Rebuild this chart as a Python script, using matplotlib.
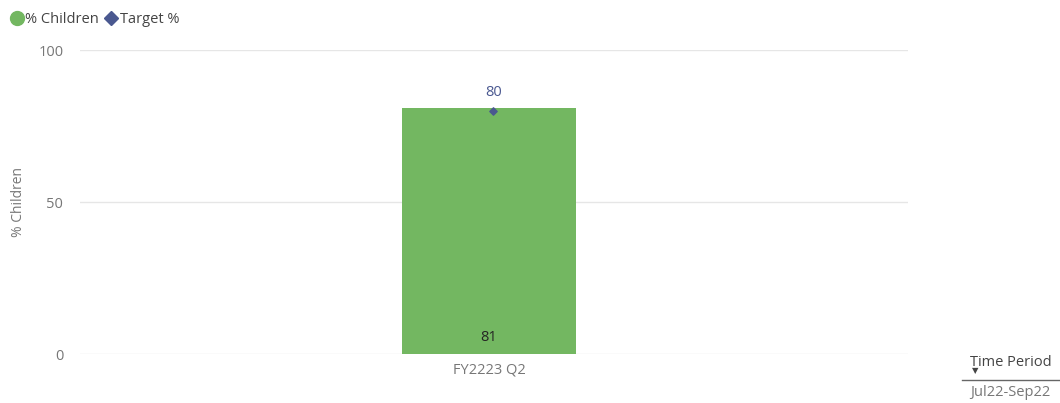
import matplotlib.pyplot as plt
from matplotlib.lines import Line2D

plt.rcParams['font.family'] = ['Open Sans', 'DejaVu Sans']

periods = ["FY2223 Q2"]
children_pct = [81]
target_pct = [80]
slicer_title = "Time Period"
slicer_value = "Jul22-Sep22"

bar_col = "#73B761"
tgt_col = "#4A5890"
grey = "#777777"

fig = plt.figure(figsize=(10.6, 4.03), dpi=100)
ax = fig.add_axes([80 / 1060, 49 / 403, 828 / 1060, 304 / 403])

x = list(range(len(periods)))
ax.bar(x, children_pct, width=0.21, color=bar_col, zorder=2)
ax.scatter([xi + 0.005 for xi in x], target_pct, marker="D", s=14, color=tgt_col, zorder=3)

for xi, v in zip(x, children_pct):
    ax.text(xi, 3, str(v), ha="center", va="bottom", fontsize=10.5, color="#252423")
for xi, v in zip(x, target_pct):
    ax.text(xi + 0.005, v + 3.7, str(v), ha="center", va="bottom", fontsize=10.5, color=tgt_col)

ax.set_xlim(-0.494, 0.506)
ax.set_ylim(0, 100)
ax.set_yticks([0, 50, 100])
ax.set_xticks(x)
ax.set_xticklabels(periods)
ax.yaxis.grid(True, color="#E6E6E6", linewidth=1)
ax.set_axisbelow(True)
for s in ax.spines.values():
    s.set_visible(False)
ax.tick_params(length=0, labelsize=10.5, colors=grey, pad=6)
ax.tick_params(axis="y", pad=12)
ax.set_ylabel("% Children", fontsize=10, color=grey)
ax.yaxis.set_label_coords(-0.065, 0.5)

handles = [
    Line2D([], [], marker="o", linestyle="", markersize=10, color=bar_col),
    Line2D([], [], marker="D", linestyle="", markersize=7, color=tgt_col),
]
fig.legend(handles, ["% Children", "Target %"], loc="upper left",
           bbox_to_anchor=(0.006, 0.98), ncol=2, frameon=False, fontsize=10.5,
           handlelength=0.8, handletextpad=0.2, columnspacing=0.45,
           borderaxespad=0, borderpad=0.3, labelcolor="#444444")

fig.text(970 / 1060, 1 - 362 / 403, slicer_title, fontsize=10.5, color="#444444", va="center")
fig.text(975 / 1060, 1 - 372 / 403, "\u25bc", fontsize=6, color="#444444", ha="center", va="center")
fig.add_artist(Line2D([962 / 1060, 1.0], [1 - 380 / 403, 1 - 380 / 403], color="#666666", linewidth=1))
fig.text(970 / 1060, 1 - 393 / 403, slicer_value, fontsize=10.5, color=grey, va="center")

fig.savefig("out.png", dpi=100)
